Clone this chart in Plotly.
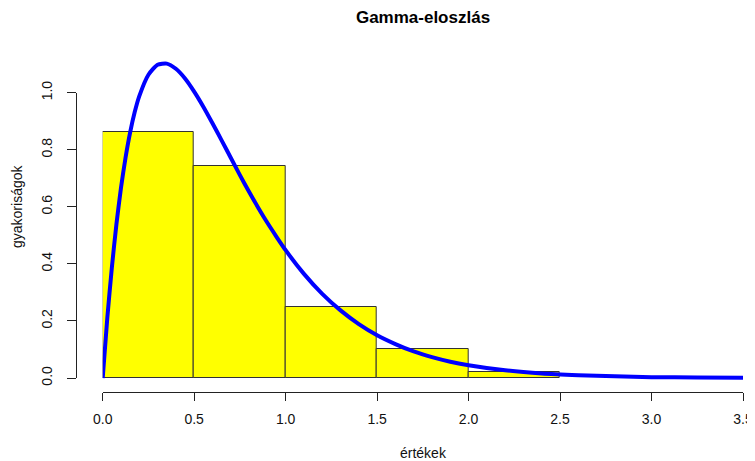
import plotly.graph_objects as go

# Histogram bins (left edges) and densities
bin_left = [0.0, 0.5, 1.0, 1.5, 2.0]
bin_width = 0.5
bin_density = [0.861, 0.742, 0.250, 0.102, 0.022]

# Density curve points
curve_x = [0, 0.025, 0.05, 0.075, 0.1, 0.125, 0.15, 0.175, 0.2, 0.25, 0.3, 0.35,
           0.4, 0.45, 0.5, 0.55, 0.6, 0.65, 0.7, 0.75, 0.8, 0.85, 0.9, 0.95, 1.0,
           1.1, 1.2, 1.3, 1.4, 1.5, 1.6, 1.7, 1.8, 1.9, 2.0, 2.2, 2.4, 2.6, 2.8,
           3.0, 3.25, 3.5]
curve_y = [0.0, 0.209, 0.387, 0.539, 0.667, 0.773, 0.861, 0.932, 0.988, 1.063,
           1.098, 1.102, 1.084, 1.050, 1.004, 0.951, 0.893, 0.833, 0.772, 0.711,
           0.653, 0.597, 0.544, 0.495, 0.448, 0.365, 0.295, 0.237, 0.189, 0.150,
           0.119, 0.093, 0.073, 0.057, 0.045, 0.027, 0.016, 0.010, 0.006, 0.003,
           0.002, 0.001]

x_ticks = [0.0, 0.5, 1.0, 1.5, 2.0, 2.5, 3.0, 3.5]
y_ticks = [0.0, 0.2, 0.4, 0.6, 0.8, 1.0]

title_text = "Gamma-eloszlás"
x_title = "értékek"
y_title = "gyakoriságok"

# page has an 8px body margin; work in reference-page pixels and convert
OFF = 8
W, H = 755 - OFF, 461 - OFF
ML = 76 - OFF
MR = 0
MT = 50 - OFF
AXIS_Y = 392 - OFF
MB = H - AXIS_Y
PW = W - ML - MR
PH = H - MT - MB

def fx(px_ref):
    return (px_ref - OFF - ML) / PW

def fy(py_ref):
    return (AXIS_Y - (py_ref - OFF)) / PH

y0_px, y1_px = 378.0, 92.7
ppu = y0_px - y1_px
yr = [-(392 - y0_px) / ppu, (y0_px - 50) / ppu]

FONT = "Liberation Sans, Arial, sans-serif"
AX = "#222222"

fig = go.Figure()
fig.add_trace(go.Bar(
    x=[b + bin_width / 2 for b in bin_left], y=bin_density, width=bin_width,
    marker=dict(color="#FFFF00", line=dict(color="#333333", width=1)),
    showlegend=False, hoverinfo="skip"))
fig.add_trace(go.Scatter(
    x=curve_x, y=curve_y, mode="lines", line=dict(color="#0000FF", width=4, shape="spline", smoothing=0.6),
    showlegend=False, hoverinfo="skip"))
fig.add_trace(go.Scatter(x=[None], y=[None], xaxis="x", yaxis="y2", showlegend=False, hoverinfo="skip"))

fig.update_layout(
    width=W, height=H,
    margin=dict(l=ML, r=MR, t=MT, b=MB, autoexpand=False),
    paper_bgcolor="white", plot_bgcolor="rgba(0,0,0,0)",
    font=dict(family=FONT, size=14, color="#111111"),
    bargap=0,
    title=dict(text="<b>" + title_text + "</b>", x=(423 - OFF) / W, xanchor="center",
               y=1 - (17 - OFF) / H, yanchor="middle", font=dict(size=17, color="#000000")),
    xaxis=dict(domain=[fx(102.7), fx(743)], range=[0, 3.5], tickvals=x_ticks,
               ticktext=["%.1f" % v for v in x_ticks], showline=True, linecolor=AX, linewidth=1,
               ticks="outside", ticklen=8, tickcolor=AX, tickwidth=1, showgrid=False, zeroline=False,
               anchor="y", fixedrange=True, automargin=False, ticklabelstandoff=6),
    yaxis=dict(domain=[0, 1], range=yr, visible=False, showgrid=False, zeroline=False, automargin=False),
    yaxis2=dict(domain=[fy(y0_px), fy(y1_px)], range=[0, 1], tickvals=y_ticks,
                ticktext=["%.1f" % v for v in y_ticks], tickangle=-90,
                showline=True, linecolor=AX, linewidth=1, ticks="outside", ticklen=9,
                tickcolor=AX, tickwidth=1, showgrid=False, zeroline=False,
                anchor="free", position=0, ticklabelstandoff=9, automargin=False),
    annotations=[
        dict(text=x_title, x=fx(423), y=fy(453), xref="paper", yref="paper",
             showarrow=False, xanchor="center", yanchor="middle", font=dict(size=14)),
        dict(text=y_title, x=fx(17), y=fy(207), xref="paper", yref="paper",
             showarrow=False, xanchor="center", yanchor="middle", textangle=-90, font=dict(size=14)),
    ],
)

fig.write_html("out.html")
